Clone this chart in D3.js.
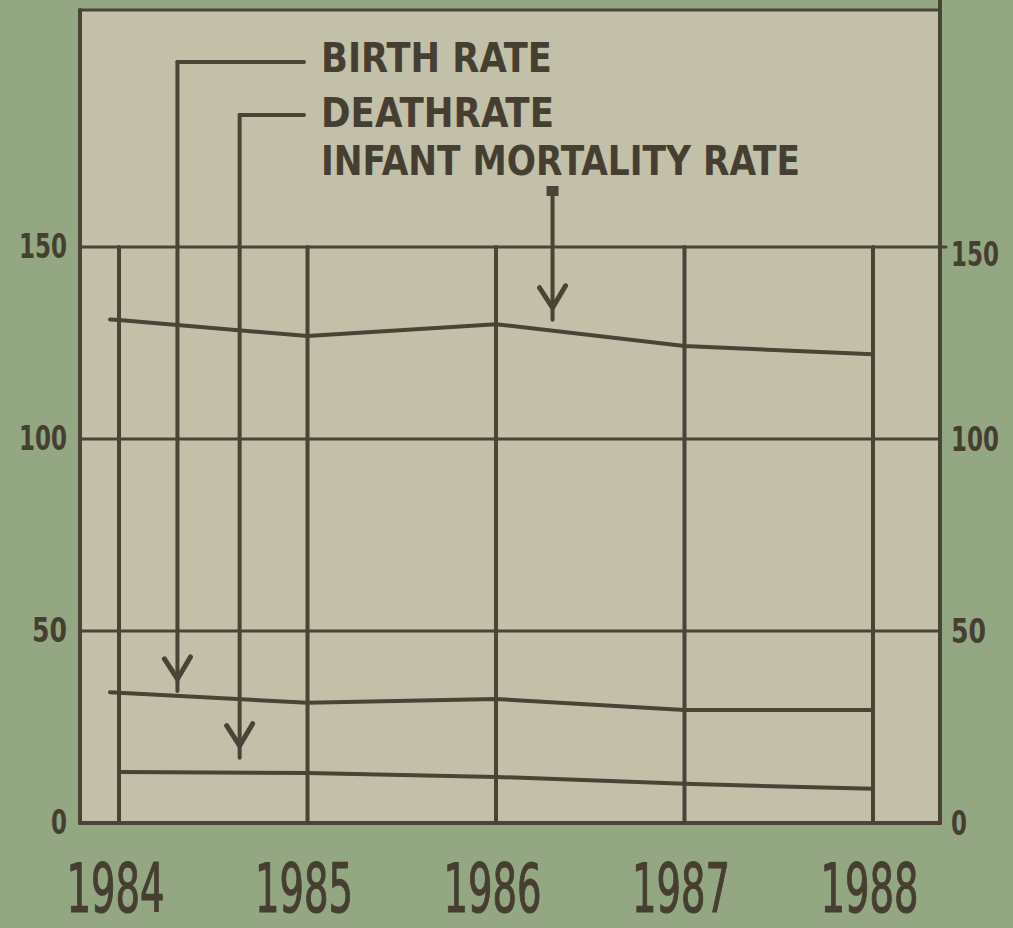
<!DOCTYPE html>
<html>
<head>
<meta charset="utf-8">
<script src="https://cdn.jsdelivr.net/npm/d3@7"></script>
<style>
  html, body { margin: 0; padding: 0; background: #93a882; }
  svg { display: block; }
  .ink { stroke: #4a4336; fill: none; stroke-linecap: round; }
  .lbl { fill: #463f31; font-family: "Liberation Sans Narrow", "DejaVu Sans Condensed", sans-serif; }
</style>
</head>
<body>
<div id="chart"></div>
<script>
'use strict';

// Дані
const years           = [1984, 1985, 1986, 1987, 1988];
const infantMortality = [131.0, 126.8, 129.9, 124.2, 122.1];
const birthRate       = [33.9, 31.3, 32.3, 29.4, 29.4];
const deathRate       = [13.3, 13.0, 12.0, 10.2, 8.9];
const yTicks          = [0, 50, 100, 150];
const legendLabels    = ['BIRTH RATE', 'DEATHRATE', 'INFANT MORTALITY RATE'];

const W = 1013, H = 928;
const frame = { left: 80, right: 940, top: 10, bottom: 823 };

const svg = d3.select('#chart').append('svg').attr('width', W).attr('height', H);

// Фон
svg.append('rect').attr('width', W).attr('height', H).attr('fill', '#93a882');
svg.append('rect')
  .attr('x', frame.left).attr('y', frame.top)
  .attr('width', frame.right - frame.left).attr('height', frame.bottom - frame.top)
  .attr('fill', '#c3c0aa');

// Масштаби
const x = d3.scaleLinear().domain([1984, 1988]).range([119, 873]);
const y = d3.scaleLinear().domain([0, 150]).range([frame.bottom, 247]);

// Горизонтальна сітка
svg.append('g').selectAll('line').data(yTicks.filter(d => d > 0)).join('line')
  .attr('class', 'ink').attr('stroke-width', 3)
  .attr('x1', frame.left).attr('x2', d => d === 150 ? frame.right + 6 : frame.right)
  .attr('y1', d => y(d)).attr('y2', d => y(d));

// Вертикальні лінії років
svg.append('g').selectAll('line').data(years).join('line')
  .attr('class', 'ink').attr('stroke-width', 4)
  .attr('x1', d => x(d)).attr('x2', d => x(d))
  .attr('y1', y(150)).attr('y2', y(0));

// Рамка
const fr = svg.append('g').attr('class', 'ink').attr('stroke-width', 4);
fr.append('line').attr('x1', frame.left).attr('x2', frame.left).attr('y1', frame.top).attr('y2', frame.bottom);
fr.append('line').attr('x1', frame.right).attr('x2', frame.right).attr('y1', 0).attr('y2', frame.bottom);
fr.append('line').attr('x1', frame.left).attr('x2', frame.right).attr('y1', frame.top).attr('y2', frame.top).attr('stroke-width', 3);
fr.append('line').attr('x1', frame.left).attr('x2', frame.right).attr('y1', frame.bottom).attr('y2', frame.bottom);

// Осі (тільки підписи)
const styleAxis = (g) => {
  g.select('.domain').remove();
  g.selectAll('.tick line').remove();
};
const tickLen = d => d >= 100 ? 48 : d > 0 ? 35 : 16;

svg.append('g').attr('transform', `translate(${frame.left},0)`)
  .call(d3.axisLeft(y).tickValues(yTicks).tickSize(0).tickPadding(13))
  .call(styleAxis)
  .call(g => g.selectAll('text').attr('class', 'lbl').attr('font-size', 34).attr('fill', null)
    .style('font-weight', 'bold')
    .attr('textLength', tickLen).attr('lengthAdjust', 'spacingAndGlyphs'));

svg.append('g').attr('transform', `translate(${frame.right},0)`)
  .call(d3.axisRight(y).tickValues(yTicks).tickSize(0).tickPadding(11))
  .call(styleAxis)
  .call(g => g.selectAll('text').attr('class', 'lbl').attr('font-size', 30).attr('fill', null)
    .style('font-weight', 'bold').attr('dy', d => d === 150 ? '0.55em' : '0.32em')
    .attr('transform', 'scale(1,1.15)').attr('y', d => 0)
    .attr('textLength', tickLen).attr('lengthAdjust', 'spacingAndGlyphs'));

svg.append('g').attr('transform', `translate(0,${frame.bottom})`)
  .call(d3.axisBottom(x).tickValues(years).tickFormat(d3.format('d')).tickSize(0))
  .call(styleAxis)
  .call(g => g.selectAll('text').attr('class', 'lbl').attr('font-size', 68)
    .style('font-weight', 'normal').attr('stroke', '#463f31').attr('stroke-width', 1.2)
    .attr('fill', null).attr('x', -4).attr('y', 89).attr('dy', 0)
    .attr('textLength', 98).attr('lengthAdjust', 'spacingAndGlyphs'));

// Лінії даних
const line = d3.line().x((d, i) => x(years[i])).y(d => y(d));
[infantMortality, birthRate, deathRate].forEach(s => {
  svg.append('path').datum(s).attr('class', 'ink').attr('stroke-width', 4).attr('d', line);
});
// короткі «хвостики» ліворуч від 1984
[infantMortality, birthRate].forEach(s => {
  svg.append('line').attr('class', 'ink').attr('stroke-width', 4)
    .attr('x1', x(1984) - 9).attr('x2', x(1984))
    .attr('y1', y(s[0]) - 0.5).attr('y2', y(s[0]));
});

// Легенда зі стрілками
const interp = (s, yr) => {
  const i = Math.min(Math.floor(yr - 1984), 3);
  const t = yr - 1984 - i;
  return s[i] + (s[i + 1] - s[i]) * t;
};

const legendX = 321;
const legendBase = [72, 127, 175];
const legendLen  = [231, 233, 479];
legendLabels.forEach((t, i) => {
  svg.append('text').attr('class', 'lbl')
    .attr('x', legendX).attr('y', legendBase[i])
    .attr('font-size', 40).style('font-weight', 'bold')
    .attr('textLength', legendLen[i]).attr('lengthAdjust', 'spacingAndGlyphs')
    .text(t);
});

const arrows = [
  { yr: 1984.31, series: birthRate,       from: 62,  gap: 5,  leader: true },
  { yr: 1984.64, series: deathRate,       from: 115, gap: 15, leader: true },
  { yr: 1986.30, series: infantMortality, from: 192, gap: 11, leader: false }
];
arrows.forEach(a => {
  const ax = x(a.yr);
  const tip = y(interp(a.series, a.yr)) - a.gap;
  const g = svg.append('g').attr('class', 'ink').attr('stroke-width', 4);
  if (a.leader) {
    g.append('line').attr('x1', ax).attr('x2', 304).attr('y1', a.from).attr('y2', a.from);
  } else {
    svg.append('rect').attr('x', ax - 6).attr('y', a.from - 6).attr('width', 12).attr('height', 10)
      .attr('fill', '#4a4336');
  }
  g.append('line').attr('x1', ax).attr('x2', ax).attr('y1', a.from).attr('y2', tip);
  g.append('path').attr('stroke-width', 5)
    .attr('d', `M${ax - 13},${tip - 32} L${ax},${tip - 12} L${ax + 13},${tip - 34}`);
});
</script>
</body>
</html>
